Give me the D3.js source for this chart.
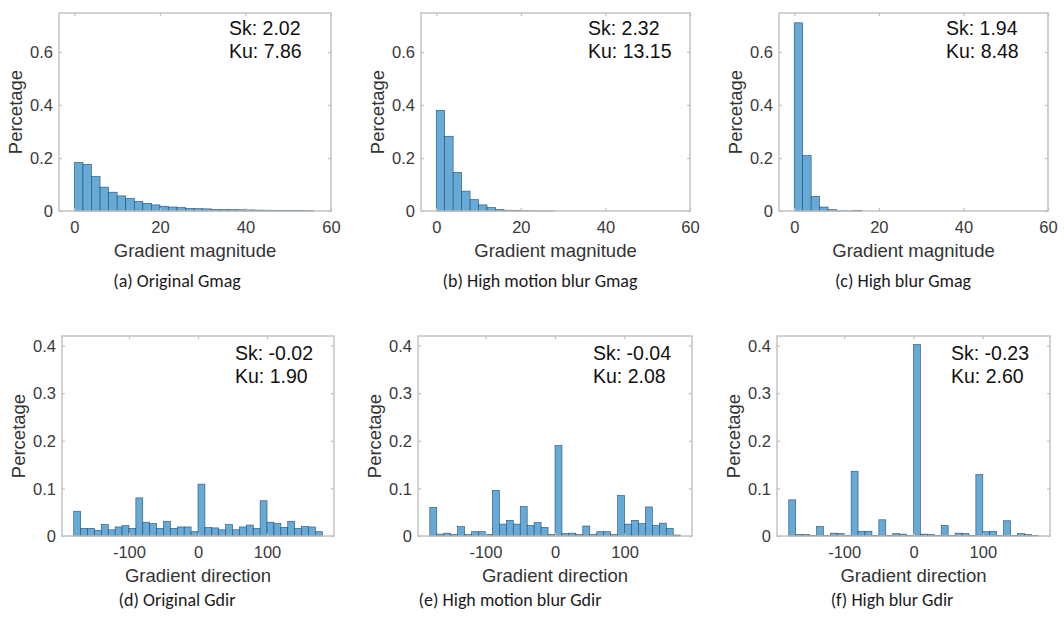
<!DOCTYPE html>
<html>
<head>
<meta charset="utf-8">
<script src="https://cdn.jsdelivr.net/npm/d3@7/dist/d3.min.js"></script>
<style>
  html, body { margin: 0; padding: 0; background: #fff; }
  svg { display: block; }
</style>
</head>
<body>
<svg id="chart" width="1064" height="617"></svg>
<script>
// ---------------- DATA ----------------
// Gradient magnitude histograms (bin width 2, starting at 0)
const gmagOriginal = [0.183,0.176,0.130,0.090,0.071,0.057,0.048,0.036,0.029,0.023,0.018,0.015,0.013,0.010,0.009,0.008,0.006,0.0055,0.005,0.0045,0.004,0.0035,0.003,0.0025,0.002,0.002,0.0015,0.001];
const gmagMotion   = [0.380,0.282,0.146,0.075,0.043,0.023,0.013,0.006,0.003,0.002,0.001,0.0005,0.0003,0.0002];
const gmagBlur     = [0.710,0.209,0.055,0.015,0.005,0.001,0.0003,0.002];
// Gradient direction histograms (bin width 10, from -180 to 180)
const gdirOriginal = [0.052,0.016,0.016,0.012,0.024,0.013,0.019,0.022,0.016,0.080,0.029,0.026,0.016,0.031,0.016,0.019,0.019,0.009,0.109,0.018,0.017,0.013,0.024,0.013,0.019,0.023,0.016,0.074,0.029,0.026,0.018,0.031,0.016,0.020,0.019,0.009];
const gdirMotion   = [0.060,0.004,0.006,0.003,0.020,0.003,0.009,0.009,0.003,0.096,0.025,0.033,0.025,0.062,0.022,0.028,0.018,0.003,0.190,0.005,0.006,0.003,0.021,0.003,0.009,0.009,0.003,0.085,0.025,0.033,0.026,0.061,0.022,0.027,0.016,0.002];
const gdirBlur     = [0.076,0.003,0.003,0.001,0.020,0.001,0.006,0.005,0.001,0.136,0.010,0.010,0.001,0.034,0.001,0.005,0.004,0.001,0.402,0.004,0.003,0.001,0.022,0.001,0.006,0.005,0.001,0.129,0.009,0.010,0.001,0.032,0.001,0.005,0.003,0.001];

const magXTicks = [0, 20, 40, 60];
const magYTicks = [0, 0.2, 0.4, 0.6];
const dirXTicks = [-100, 0, 100];
const dirYTicks = [0, 0.1, 0.2, 0.3, 0.4];

const skValues = ["2.02", "2.32", "1.94", "-0.02", "-0.04", "-0.23"];
const kuValues = ["7.86", "13.15", "8.48", "1.90", "2.08", "2.60"];
const captions = ["(a) Original Gmag", "(b) High motion blur Gmag", "(c) High blur Gmag",
                  "(d) Original Gdir", "(e) High motion blur Gdir", "(f) High blur Gdir"];
const xLabels = ["Gradient magnitude", "Gradient direction"];
const yLabel = "Percetage";

// ---------------- LAYOUT ----------------
const svg = d3.select("#chart");
const panels = [
  {values: gmagOriginal, start: 0, bw: 2, kind: 0, box: {l: 59, r: 331, t: 13, b: 211}, cap: 177},
  {values: gmagMotion,   start: 0, bw: 2, kind: 0, box: {l: 421, r: 690, t: 13, b: 211}, cap: 540},
  {values: gmagBlur,     start: 0, bw: 2, kind: 0, box: {l: 779, r: 1048, t: 13, b: 211}, cap: 903},
  {values: gdirOriginal, start: -180, bw: 10, kind: 1, box: {l: 62, r: 334, t: 336, b: 536}, cap: 177},
  {values: gdirMotion,   start: -180, bw: 10, kind: 1, box: {l: 418, r: 692, t: 336, b: 536}, cap: 510},
  {values: gdirBlur,     start: -180, bw: 10, kind: 1, box: {l: 777, r: 1050, t: 336, b: 536}, cap: 892}
];

const boxColor = "#bfbfbf";
const tickTextColor = "#3a3a3a";
const fmt = d => d === 0 ? "0" : String(d);

panels.forEach((p, i) => {
  const {l, r, t, b} = p.box;
  const isMag = p.kind === 0;
  const x = d3.scaleLinear().domain(isMag ? [-3.6, 60] : [-197, 197]).range([l, r]);
  const y = d3.scaleLinear().domain(isMag ? [0, 0.747] : [0, 0.42]).range([b, t]);
  const xt = isMag ? magXTicks : dirXTicks;
  const yt = isMag ? magYTicks : dirYTicks;
  const g = svg.append("g");

  // bars
  g.append("g").selectAll("rect").data(p.values).join("rect")
    .attr("x", (d, k) => x(p.start + k * p.bw))
    .attr("width", (d, k) => x(p.start + (k + 1) * p.bw) - x(p.start + k * p.bw))
    .attr("y", d => y(d))
    .attr("height", d => y(0) - y(d))
    .attr("fill", "#66aad7")
    .attr("stroke", "#2b4d6b")
    .attr("stroke-width", 0.6);

  // axes with inward ticks (bottom/left labelled, top/right mirrored)
  const axB = d3.axisBottom(x).tickValues(xt).tickSize(-3).tickPadding(9).tickFormat(fmt);
  const axT = d3.axisTop(x).tickValues(xt).tickSize(-3).tickFormat("");
  const axL = d3.axisLeft(y).tickValues(yt).tickSize(-3).tickPadding(9).tickFormat(fmt);
  const axR = d3.axisRight(y).tickValues(yt).tickSize(-3).tickFormat("");

  const style = sel => {
    sel.select(".domain").remove();
    sel.selectAll(".tick line").attr("stroke", boxColor).attr("stroke-width", 1.2);
    sel.selectAll(".tick text").attr("fill", tickTextColor)
      .style("font-family", "'Liberation Sans', Arial, sans-serif").style("font-size", "16.5px");
  };
  g.append("g").attr("transform", `translate(0,${b})`).call(axB).call(style)
    .selectAll(".tick text").attr("dy", null).attr("y", 22);
  g.append("g").attr("transform", `translate(0,${t})`).call(axT).call(style);
  g.append("g").attr("transform", `translate(${l},0)`).call(axL).call(style)
    .selectAll(".tick text").attr("x", -6).attr("dy", "0.35em");
  g.append("g").attr("transform", `translate(${r},0)`).call(axR).call(style);

  // box
  g.append("rect").attr("x", l).attr("y", t).attr("width", r - l).attr("height", b - t)
    .attr("fill", "none").attr("stroke", boxColor).attr("stroke-width", 1.4);

  // axis labels
  g.append("text").attr("x", (l + r) / 2).attr("y", b + 46).attr("text-anchor", "middle")
    .attr("fill", "#333").style("font-family", "'Liberation Sans', Arial, sans-serif").style("font-size", "18.5px")
    .text(xLabels[p.kind]);
  g.append("text").attr("transform", `translate(${l - 37},${(t + b) / 2}) rotate(-90)`)
    .attr("text-anchor", "middle")
    .attr("fill", "#333").style("font-family", "'Liberation Sans', Arial, sans-serif").style("font-size", "18.5px")
    .text(yLabel);

  // Sk / Ku annotation
  const sx = isMag ? r - 102 : r - 99;
  const s0 = isMag ? t + 22 : t + 24;
  const ann = g.append("g").attr("fill", "#111")
    .style("font-family", "'Liberation Sans', Arial, sans-serif").style("font-size", "19.5px");
  ann.append("text").attr("x", sx).attr("y", s0).text("Sk: " + skValues[i]);
  ann.append("text").attr("x", sx).attr("y", s0 + 22.5).text("Ku: " + kuValues[i]);

  // caption
  g.append("text").attr("x", p.cap).attr("y", isMag ? 287 : 606).attr("text-anchor", "middle")
    .attr("fill", "#1a1a1a").style("font-family", "Carlito, Lato, 'Open Sans', sans-serif").style("font-size", "18px")
    .text(captions[i]);
});
</script>
</body>
</html>
